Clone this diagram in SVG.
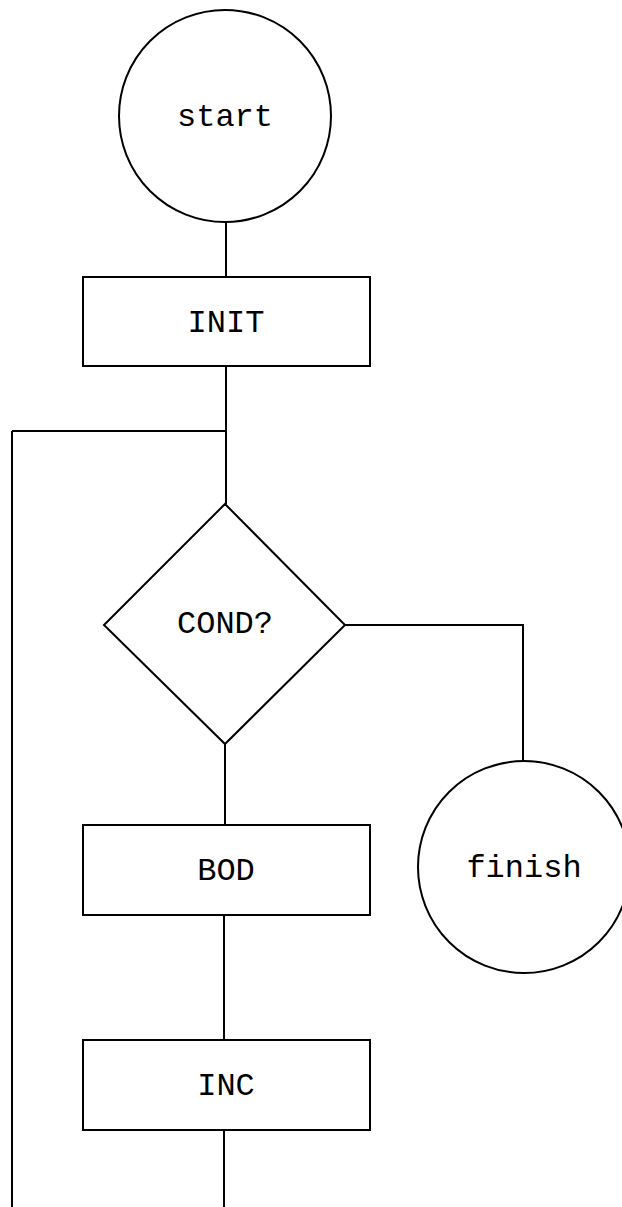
<svg xmlns="http://www.w3.org/2000/svg" width="622" height="1207" viewBox="0 0 622 1207">
<style>
.shape{fill:#fff;stroke:#000;stroke-width:2}
.conn{fill:none;stroke:#000;stroke-width:2}
.lbl{font-family:"Liberation Mono","Courier New",monospace;font-size:32px;fill:#000;text-anchor:middle}
</style>
<rect width="622" height="1207" fill="#fff"/>
<g id="connectors">
<path class="conn" d="M226 222 V277"/>
<path class="conn" d="M226 366 V431 M12 431 H226 M226 431 V504"/>
<path class="conn" d="M225 744 V825"/>
<path class="conn" d="M224 915 V1040"/>
<path class="conn" d="M224 1130 V1207"/>
<path class="conn" d="M12 431 V1207"/>
<path class="conn" d="M345 625 H523 V761"/>
</g>
<g id="start">
<circle class="shape" cx="225" cy="116" r="106"/>
<text class="lbl" x="225" y="126">start</text>
</g>
<g id="init">
<rect class="shape" x="83" y="277" width="287" height="89"/>
<text class="lbl" x="226" y="332">INIT</text>
</g>
<g id="cond">
<polygon class="shape" points="225,504 345,625 225,744 104,625"/>
<text class="lbl" x="225" y="633">COND?</text>
</g>
<g id="finish">
<circle class="shape" cx="524" cy="867" r="106"/>
<text class="lbl" x="524" y="877">finish</text>
</g>
<g id="bod">
<rect class="shape" x="83" y="825" width="287" height="90"/>
<text class="lbl" x="226" y="880">BOD</text>
</g>
<g id="inc">
<rect class="shape" x="83" y="1040" width="287" height="90"/>
<text class="lbl" x="226" y="1095">INC</text>
</g>
</svg>
